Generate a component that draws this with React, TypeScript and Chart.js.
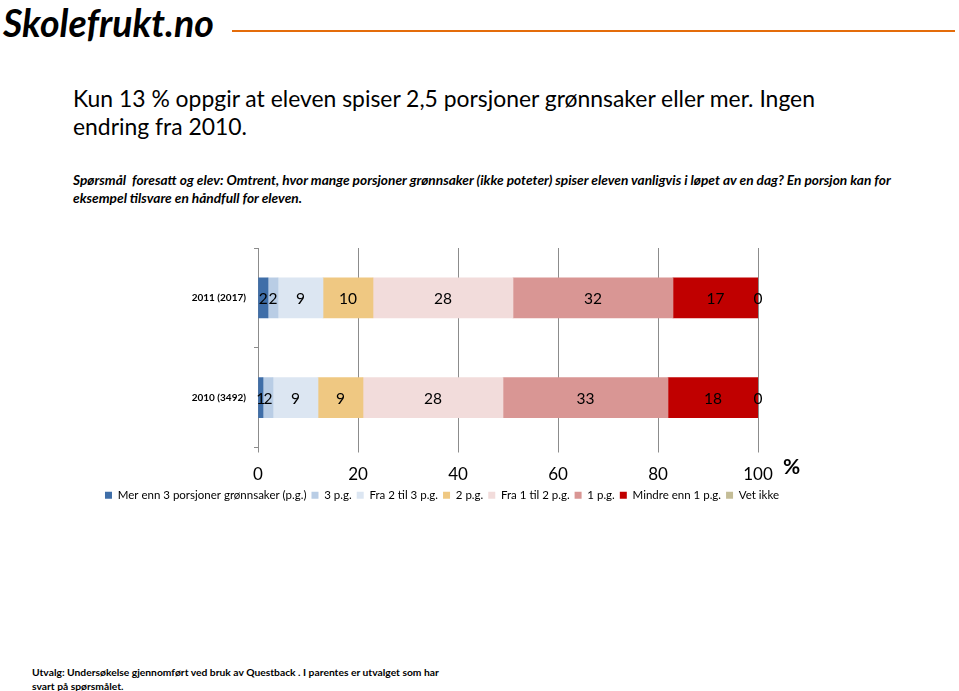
import React, { useEffect, useRef } from "react";
import { Chart, registerables } from "chart.js";

Chart.register(...registerables);

const categories = ["2011 (2017)", "2010 (3492)"];
const seriesNames = [
  "Mer enn 3 porsjoner grønnsaker (p.g.)",
  "3 p.g.",
  "Fra 2 til 3 p.g.",
  "2 p.g.",
  "Fra 1 til 2 p.g.",
  "1 p.g.",
  "Mindre enn 1 p.g.",
  "Vet ikke",
];
const merEnn3 = [2, 1];
const tre = [2, 2];
const fra2til3 = [9, 9];
const to = [10, 9];
const fra1til2 = [28, 28];
const en = [32, 33];
const mindreEnn1 = [17, 18];
const vetIkke = [0, 0];
const seriesValues = [merEnn3, tre, fra2til3, to, fra1til2, en, mindreEnn1, vetIkke];
const seriesColors = ["#3F6EA8", "#B9CDE5", "#DCE6F2", "#EFC882", "#F2DCDB", "#D99694", "#C00000", "#C4BD97"];
const xTicks = [0, 20, 40, 60, 80, 100];

const FONT = "Lato, 'Open Sans', sans-serif";
const LEGEND_CENTER = 442;

const labelPlugin = {
  id: "segLabels",
  afterDatasetsDraw(chart: any) {
    const ctx = chart.ctx;
    ctx.save();
    ctx.font = `15.5px ${FONT}`;
    ctx.fillStyle = "#000";
    ctx.textAlign = "center";
    ctx.textBaseline = "middle";
    chart.data.datasets.forEach((ds: any, i: number) => {
      const meta = chart.getDatasetMeta(i);
      meta.data.forEach((el: any, j: number) => {
        const cx = (el.x + el.base) / 2;
        ctx.fillText(String(ds.data[j]), cx, el.y + 1);
      });
    });
    ctx.restore();
  },
};

const legendShift = {
  id: "legendShift",
  afterLayout(chart: any) {
    const lg = chart.legend;
    if (!lg) return;
    const dx = LEGEND_CENTER - (lg.left + lg.right) / 2;
    lg.left += dx;
    lg.right += dx;
  },
};

export default function App() {
  const ref = useRef<HTMLCanvasElement>(null);
  useEffect(() => {
    if (!ref.current) return;
    Chart.defaults.font.family = FONT;
    const chart = new Chart(ref.current, {
      type: "bar",
      data: {
        labels: categories,
        datasets: seriesNames.map((n, i) => ({
          label: n,
          data: seriesValues[i],
          backgroundColor: seriesColors[i],
          borderWidth: 0,
          barThickness: 40,
        })),
      },
      options: {
        indexAxis: "y",
        animation: false,
        responsive: false,
        maintainAspectRatio: false,
        layout: { padding: { left: 0, right: 126, top: 8, bottom: 0 } },
        plugins: {
          tooltip: { enabled: false },
          legend: {
            position: "bottom",
            labels: {
              font: { size: 11.5, family: FONT },
              color: "#000",
              boxWidth: 7,
              boxHeight: 7,
              padding: 5,
            },
          },
        },
        scales: {
          x: {
            stacked: true,
            min: 0,
            max: 100,
            afterBuildTicks: (s: any) => {
              s.ticks = xTicks.map((v) => ({ value: v }));
            },
            afterFit: (s: any) => {
              s.height = 37;
            },
            grid: { color: "#8C8C8C", tickLength: 5, lineWidth: 1 },
            border: { display: false },
            ticks: { color: "#000", font: { size: 17, family: FONT }, padding: 12 },
          },
          y: {
            stacked: true,
            afterFit: (s: any) => {
              s.width = 258;
              s.paddingTop = 0;
              s.paddingBottom = 0;
            },
            grid: { drawOnChartArea: false, tickLength: 4, color: "#8C8C8C" },
            border: { display: true, color: "#8C8C8C" },
            ticks: { color: "#000", font: { size: 10, weight: "bold", family: FONT }, padding: 8 },
          },
        },
      },
      plugins: [labelPlugin, legendShift],
    } as any);
    return () => chart.destroy();
  }, []);

  return (
    <div style={{ position: "absolute", left: 0, top: 0, width: 959, height: 691, background: "#fff", fontFamily: FONT }}>
      <div style={{ position: "absolute", left: 3, top: -1, fontSize: 37.5, fontWeight: "bold", fontStyle: "italic", color: "#000", lineHeight: "48px" }}>
        Skolefrukt.no
      </div>
      <div style={{ position: "absolute", left: 232, top: 30, width: 723, height: 2, background: "#E46C0A" }} />
      <div style={{ position: "absolute", left: 73, top: 84, width: 790, fontSize: 22.9, lineHeight: "28px", color: "#000" }}>
        Kun 13 % oppgir at eleven spiser 2,5 porsjoner grønnsaker eller mer. Ingen endring fra 2010.
      </div>
      <div style={{ position: "absolute", left: 73, top: 171, width: 840, fontSize: 13.7, lineHeight: "18px", fontWeight: "bold", fontStyle: "italic", color: "#000" }}>
        Spørsmål&nbsp; foresatt og elev: Omtrent, hvor mange porsjoner grønnsaker (ikke poteter) spiser eleven vanligvis i løpet av en dag? En porsjon kan for eksempel tilsvare en håndfull for eleven.
      </div>
      <canvas ref={ref} width={884} height={271} style={{ position: "absolute", left: 0, top: 240, width: 884, height: 271 }} />
      <div style={{ position: "absolute", left: 783, top: 453, fontSize: 21, fontWeight: "bold", color: "#000" }}>%</div>
      <div style={{ position: "absolute", left: 32, top: 665, width: 420, fontSize: 10.3, lineHeight: "14px", fontWeight: "bold", color: "#000" }}>
        Utvalg: Undersøkelse gjennomført ved bruk av Questback . I parentes er utvalget som har svart på spørsmålet.
      </div>
    </div>
  );
}
